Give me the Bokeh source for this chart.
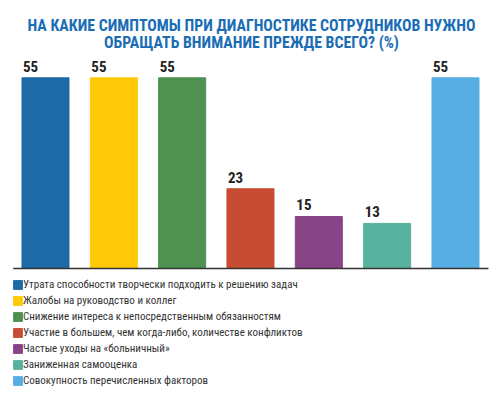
from bokeh.plotting import figure
from bokeh.models import Range1d, Label, LabelSet, Legend, LegendItem, ColumnDataSource
from bokeh.core.properties import value
from bokeh.embed import file_html
from bokeh.resources import INLINE

categories = [
    "Утрата способности творчески подходить к решению задач",
    "Жалобы на руководство и коллег",
    "Снижение интереса к непосредственным обязанностям",
    "Участие в большем, чем когда-либо, количестве конфликтов",
    "Частые уходы на «больничный»",
    "Заниженная самооценка",
    "Совокупность перечисленных факторов",
]
values = [55, 55, 55, 23, 15, 13, 55]
colors = ["#1e6aa6", "#ffc908", "#4e9150", "#c84b33", "#874487", "#58b39e", "#56aee3"]
title_lines = ["НА КАКИЕ СИМПТОМЫ ПРИ ДИАГНОСТИКЕ СОТРУДНИКОВ НУЖНО",
               "ОБРАЩАТЬ ВНИМАНИЕ ПРЕЖДЕ ВСЕГО? (%)"]

FONT = "Roboto Condensed"

x = list(range(len(values)))
bar_w = 0.688
src = ColumnDataSource(dict(
    x=x, top=values, color=colors, label=[str(v) for v in values],
    lx=[i - bar_w / 2 + 0.015 for i in x],
))

p = figure(width=500, height=396, output_backend="svg", toolbar_location=None,
           x_range=Range1d(-0.6586, 6.659), y_range=Range1d(-36.92, 77.3),
           min_border=0, outline_line_color=None)
p.axis.visible = False
p.grid.visible = False

r = p.vbar(x="x", top="top", width=bar_w, bottom=0, color="color", source=src)
p.segment(x0=[-0.473], y0=[0], x1=[6.483], y1=[0], line_color="#333333", line_width=1.5)

p.add_layout(LabelSet(x="lx", y="top", text="label", source=src, text_font=value(FONT),
                      text_font_style="bold", text_font_size="15px", text_color="#222222",
                      text_baseline="alphabetic", text_align="left", y_offset=6))

for line, yy in zip(title_lines, [371, 354]):
    p.add_layout(Label(x=251, y=yy, x_units="screen", y_units="screen", text=line,
                       text_font=FONT, text_font_style="bold", text_font_size="15.8px",
                       text_color="#1a6db5", text_align="center", text_baseline="alphabetic"))

items = [LegendItem(label=c, renderers=[r], index=i) for i, c in enumerate(categories)]
legend = Legend(items=items, location=(12, 9), orientation="vertical",
                glyph_width=11, glyph_height=11, label_height=11, spacing=3,
                label_standoff=0, padding=0, margin=0, border_line_color=None,
                background_fill_alpha=0, label_text_font=FONT,
                label_text_font_size="11px", label_text_color="#333333")
p.add_layout(legend, "center")

open("out.html", "w").write(file_html(p, INLINE))
